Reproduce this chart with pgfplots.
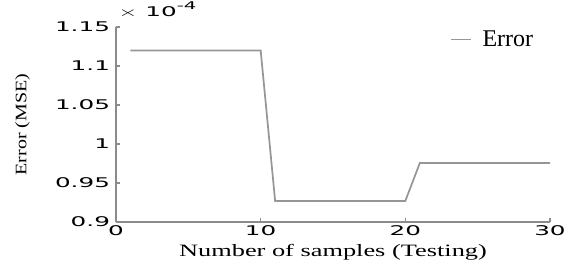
\documentclass[border=0pt]{standalone}
\usepackage{pgfplots}
\pgfplotsset{compat=1.18}
\usepackage{fontspec}
\usepackage{graphicx}
\setmainfont{Liberation Serif}
\newfontfamily\tickfont{DejaVu Sans}
\newcommand{\tl}[1]{\scalebox{1.85}[1]{\fontsize{10pt}{10pt}\selectfont\tickfont #1}}
\definecolor{lgray}{RGB}{150,150,150}
\definecolor{agray}{RGB}{140,140,140}
\begin{document}
\begin{tikzpicture}[x=0.75pt,y=0.75pt]
\begin{axis}[
  at={(0,0)}, anchor=south west,
  scale only axis,
  width=325.5pt, height=146.25pt,
  xmin=0, xmax=30, ymin=0.9, ymax=1.15,
  axis lines=left,
  axis line style={agray, line width=1.2pt, -},
  tick align=inside,
  tick style={agray, line width=0.8pt},
  major tick length=3pt,
  xtick={0,10,20,30},
  xticklabels={\tl{0},\tl{10},\tl{20},\tl{30}},
  ytick={0.9,0.95,1,1.05,1.1,1.15},
  yticklabels={\tl{0.9},\tl{0.95},\tl{1},\tl{1.05},\tl{1.1},\tl{1.15}},
  xticklabel style={yshift=1pt},
  yticklabel style={xshift=-1pt},
  xlabel={\scalebox{1.52}[1]{\fontsize{13pt}{13pt}\selectfont Number of samples (Testing)}},
  ylabel={\scalebox{1.25}[1]{\fontsize{12pt}{12pt}\selectfont Error (MSE)}},
  xlabel style={yshift=0pt},
  ylabel style={yshift=12pt},
  legend style={draw=none, fill=none, at={(0.965,0.99)}, anchor=north east,
    font=\fontsize{18pt}{18pt}\selectfont, inner sep=0pt,
    nodes={inner sep=1pt}},
  legend image code/.code={\draw[#1] (0pt,0pt) -- (15pt,0pt);},
  legend cell align=left,
  clip=false,
]
\addplot[lgray, line width=1.3pt] coordinates {
  (1,1.12) (10,1.12) (11,0.927) (20,0.927) (21,0.9755) (30,0.9755)
};
\addlegendentry{\hspace{7pt}Error}
\node[anchor=base west, inner sep=0pt] at (rel axis cs:0.005,1) [yshift=8pt] {\tl{$\times$ 10}\raisebox{5pt}{\scalebox{1.85}[1]{\fontsize{8pt}{8pt}\selectfont\tickfont -4}}};
\end{axis}
\pgfresetboundingbox
\path (-116,-44) rectangle (454,222);
\end{tikzpicture}
\end{document}
